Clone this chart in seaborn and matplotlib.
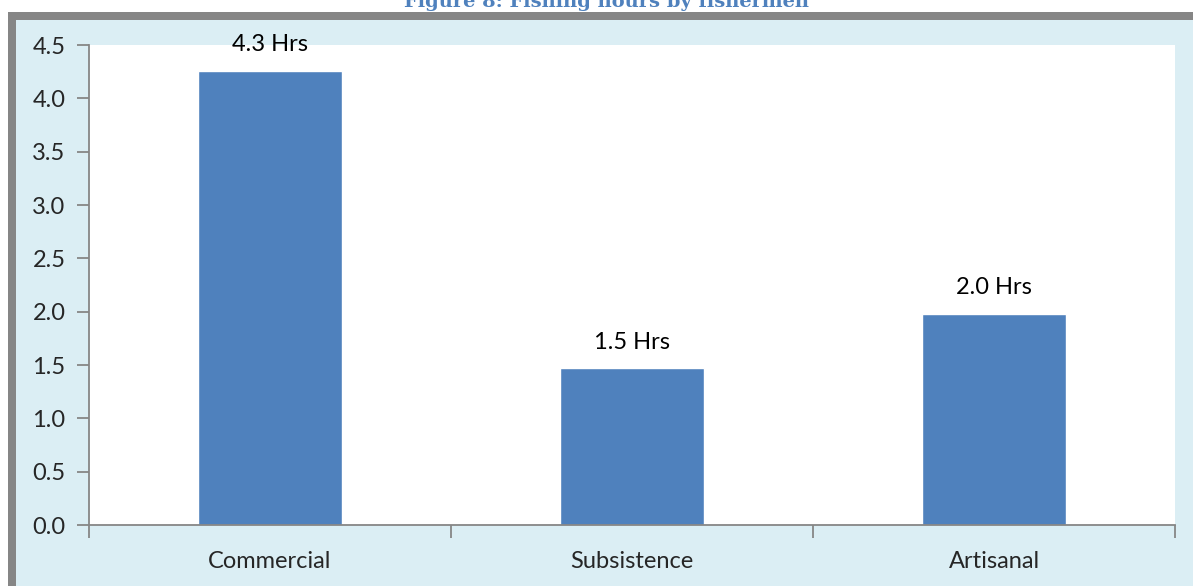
import numpy as np
import matplotlib
matplotlib.use("Agg")
import matplotlib.pyplot as plt
import pandas as pd
import seaborn as sns
from matplotlib.patches import Rectangle

# data
categories = ["Commercial", "Subsistence", "Artisanal"]
hours = [4.26, 1.47, 1.98]
bar_labels = ["4.3 Hrs", "1.5 Hrs", "2.0 Hrs"]
yticks = [0.0, 0.5, 1.0, 1.5, 2.0, 2.5, 3.0, 3.5, 4.0, 4.5]

W, H = 1193, 586
sns.set_style("white")
plt.rcParams["font.family"] = ["Lato", "DejaVu Sans"]

fig = plt.figure(figsize=(W / 100, H / 100), dpi=100)
fig.patch.set_facecolor("white")

# gray frame (top and left visible) with light blue chart area
fig.patches.append(Rectangle((8 / W, -0.1), 1.2, (H - 12) / H + 0.1,
                             transform=fig.transFigure, facecolor="#868686",
                             edgecolor="none", zorder=-10))
fig.patches.append(Rectangle((16 / W, -0.1), 1.2, (H - 20) / H + 0.1,
                             transform=fig.transFigure, facecolor="#DBEEF4",
                             edgecolor="none", zorder=-9))

# title, cut off at the top edge (as in the source)
fig.text(607 / W, 1 - 7 / H, "Figure 8: Fishing hours by fishermen",
         ha="center", va="baseline", color="#4F81BD", fontsize=14,
         fontweight="bold", family=["DejaVu Serif"])

ax = fig.add_axes([89 / W, (H - 525) / H, (1175 - 89) / W, (525 - 45) / H])
ax.set_facecolor("white")

df = pd.DataFrame({"category": categories, "hours": hours})
sns.barplot(data=df, x="category", y="hours", color="#4F81BD", saturation=1,
            width=0.4, ax=ax)

ax.set_ylim(0, 4.5)
ax.set_xlim(-0.5, 2.5)
ax.set_yticks(yticks)
ax.set_yticklabels([f"{t:.1f}" for t in yticks])
ax.set_xlabel("")
ax.set_ylabel("")

for sp in ["top", "right"]:
    ax.spines[sp].set_visible(False)
for sp in ["left", "bottom"]:
    ax.spines[sp].set_color("#868686")
    ax.spines[sp].set_linewidth(1.3)

ax.tick_params(axis="y", which="major", direction="out", length=9, width=1.3,
               color="#868686", labelsize=17, pad=8, left=True)
ax.tick_params(axis="x", which="major", length=0, labelsize=17, pad=19)
ax.set_xticks([-0.5, 0.5, 1.5, 2.5], minor=True)
ax.tick_params(axis="x", which="minor", direction="out", length=9, width=1.3,
               color="#868686", bottom=True)

for i, (v, lab) in enumerate(zip(hours, bar_labels)):
    ax.annotate(lab, (i, v), xytext=(0, 14), textcoords="offset points",
                ha="center", va="baseline", fontsize=17, color="black",
                annotation_clip=False)

fig.savefig("out.png", dpi=100)
